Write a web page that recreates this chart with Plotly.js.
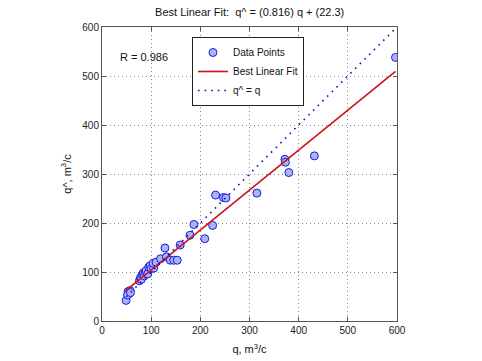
<!DOCTYPE html>
<html>
<head>
<meta charset="utf-8">
<script src="https://cdn.plot.ly/plotly-3.0.1.min.js"></script>
<style>html,body{margin:0;padding:0;background:#fff;}#chart{width:482px;height:361px;}</style>
</head>
<body>
<div id="chart"></div>
<script>
// measured flow q (x) and predicted flow q^ (y), m^3/c
var qData = [49, 53, 55, 52, 57, 58, 76, 78, 80, 82, 84, 86, 88, 90, 93, 95, 98, 100, 105, 104, 110, 119, 128, 131, 139, 146, 153, 159, 179, 187, 209, 225, 231, 247, 252, 315, 372, 373, 380, 432, 597];
var qHat  = [42, 60, 56, 53, 62, 58, 82, 88, 85, 95, 98, 92, 100, 103, 96, 110, 113, 107, 108, 118, 120, 127, 149, 131, 124, 124, 124, 155, 175, 197, 168, 195, 257, 252, 251, 261, 330, 324, 303, 337, 538];
var slope = 0.816, intercept = 22.3, rValue = 0.986;
var xTicks = [0, 100, 200, 300, 400, 500, 600];
var yTicks = [0, 100, 200, 300, 400, 500, 600];

var xmin = Math.min.apply(null, qData), xmax = Math.max.apply(null, qData);
var ff = 'Liberation Sans, Arial, sans-serif';
var font = {family: ff, size: 10, color: '#222'};

var traces = [
  {x: qData, y: qHat, mode: 'markers', type: 'scatter', name: 'Data Points',
   marker: {symbol: 'circle', size: 8, color: '#aab4f2', line: {color: '#1a1ae0', width: 1}}},
  {x: [xmin, xmax], y: [slope * xmin + intercept, slope * xmax + intercept], mode: 'lines', type: 'scatter',
   name: 'Best Linear Fit', line: {color: '#d0101a', width: 1.6}},
  {x: [xmin, xmax], y: [xmin, xmax], mode: 'lines', type: 'scatter', name: 'q^ = q',
   line: {color: '#1010c8', width: 1.6, dash: '1.6px,5px'}}
];

var axisCommon = {
  range: [0, 600], showgrid: true, gridcolor: '#888', griddash: '1px,3px', gridwidth: 1,
  zeroline: false, showline: true, linecolor: '#555', linewidth: 1, mirror: 'ticks',
  ticks: 'inside', ticklen: 4, tickcolor: '#555', tickfont: font
};

var layout = {
  width: 482, height: 361,
  margin: {l: 102, r: 85, t: 27, b: 40},
  paper_bgcolor: '#fff', plot_bgcolor: '#fff',
  font: font,
  title: {text: 'Best Linear Fit:  q^ = (' + slope.toFixed(3) + ') q + (' + intercept.toFixed(1) + ')',
          font: {family: ff, size: 11, color: '#111'},
          x: 0.518, xanchor: 'center', y: 0.965, yanchor: 'middle'},
  xaxis: Object.assign({}, axisCommon, {tickvals: xTicks, ticktext: xTicks.map(String),
          title: {text: 'q, m<sup>3</sup>/c', font: {family: ff, size: 11, color: '#111'}, standoff: 10}}),
  yaxis: Object.assign({}, axisCommon, {tickvals: yTicks, ticktext: yTicks.map(String),
          title: {text: 'q^, m<sup>3</sup>/c', font: {family: ff, size: 11, color: '#111'}, standoff: 8}}),
  showlegend: true,
  legend: {x: 0.305, y: 0.966, xanchor: 'left', yanchor: 'top', bgcolor: '#fff',
           bordercolor: '#222', borderwidth: 1, font: {family: ff, size: 10, color: '#111'},
           tracegroupgap: 0, itemwidth: 30},
  annotations: [{xref: 'paper', yref: 'paper', x: 0.054, y: 0.898, xanchor: 'left', yanchor: 'middle',
                 text: 'R = ' + rValue.toFixed(3), showarrow: false,
                 font: {family: ff, size: 11, color: '#111'}}]
};

Plotly.newPlot('chart', traces, layout, {displayModeBar: false, staticPlot: true});
</script>
</body>
</html>
